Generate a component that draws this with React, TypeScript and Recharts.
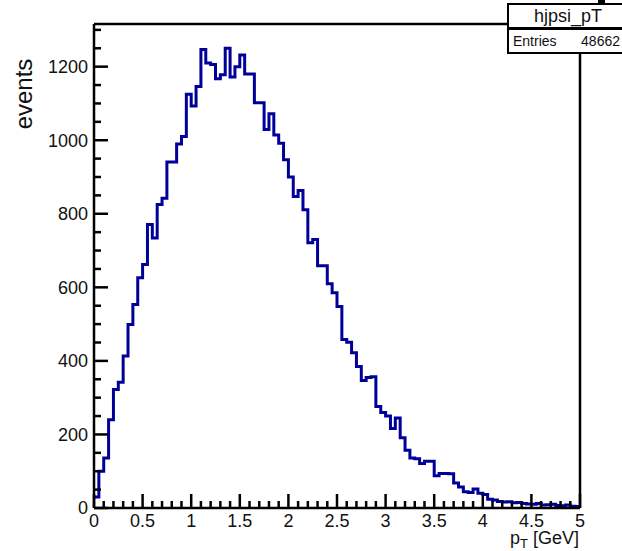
import React from "react";
import { LineChart, Line, XAxis, YAxis, ReferenceLine, Label } from "recharts";

// histogram hjpsi_pT : 100 bins from 0 to 5 GeV
const BIN_WIDTH = 0.05;
const BIN_COUNTS = [
  30, 100, 136, 240, 322, 342, 413, 499, 553, 626,
  662, 771, 734, 825, 842, 941, 941, 990, 1010, 1125,
  1093, 1146, 1247, 1210, 1206, 1167, 1178, 1250, 1172, 1200,
  1232, 1180, 1180, 1102, 1102, 1029, 1072, 1014, 992, 947,
  900, 847, 863, 811, 721, 730, 659, 659, 610, 585,
  548, 458, 451, 422, 385, 347, 355, 357, 276, 260,
  250, 216, 245, 191, 157, 136, 134, 121, 127, 127,
  88, 94, 94, 93, 68, 57, 44, 42, 52, 40,
  37, 24, 22, 18, 16, 17, 14, 15, 12, 11,
  10, 12, 8, 9, 10, 7, 6, 8, 5, 4,
];

const X_LABELS = [0, 0.5, 1, 1.5, 2, 2.5, 3, 3.5, 4, 4.5, 5];
const Y_LABELS = [0, 200, 400, 600, 800, 1000, 1200];
const X_MAX = 5;
const Y_MAX = 1316;
const HIST_NAME = "hjpsi_pT";
const ENTRIES = 48662;

const xTicks = Array.from({ length: 51 }, (_, i) => i / 10);
const yTicks = Array.from({ length: 27 }, (_, i) => i * 50);

const histData = [
  ...BIN_COUNTS.map((c, i) => ({ x: i * BIN_WIDTH, y: c })),
  { x: X_MAX, y: BIN_COUNTS[BIN_COUNTS.length - 1] },
];

const FRAME = "#000";
const LINE_W = 2.5;

const XTick = (props: any) => {
  const { x, y, payload } = props;
  const v = payload.value;
  const major = X_LABELS.some((l) => Math.abs(l - v) < 1e-6);
  return (
    <g>
      <line x1={x} y1={y} x2={x} y2={y - (major ? 14 : 7)} stroke={FRAME} strokeWidth={LINE_W} />
      {major && (
        <text x={x} y={y + 19} textAnchor="middle" fontSize={18} fill="#111">
          {v}
        </text>
      )}
    </g>
  );
};

const YTick = (props: any) => {
  const { x, y, payload } = props;
  const v = payload.value;
  const major = Y_LABELS.includes(v);
  return (
    <g>
      <line x1={x} y1={y} x2={x + (major ? 14 : 7)} y2={y} stroke={FRAME} strokeWidth={LINE_W} />
      {major && (
        <text x={x - 6} y={y} dy="0.36em" textAnchor="end" fontSize={18} fill="#111">
          {v}
        </text>
      )}
    </g>
  );
};

const XTitle = (props: any) => {
  const vb = props.viewBox;
  return (
    <text x={vb.x + vb.width - 1} y={vb.y + 36} textAnchor="end" fontSize={18} fill="#111">
      p
      <tspan fontSize={13} dy={4}>T</tspan>
      <tspan dy={-4}> [GeV]</tspan>
    </text>
  );
};

const YTitle = () => (
  <text x={32} y={94} transform="rotate(-90, 32, 94)" textAnchor="middle" fontSize={24} fill="#111">
    events
  </text>
);

export default function App() {
  return (
    <div
      style={{
        position: "fixed",
        left: 0,
        top: 0,
        width: 622,
        height: 551,
        overflow: "hidden",
        background: "#fff",
        fontFamily: "'Liberation Sans', Arial, sans-serif",
      }}
    >
      <LineChart
        width={622}
        height={551}
        data={histData}
        margin={{ top: 24, right: 42, bottom: 13, left: 0 }}
      >
        <XAxis
          dataKey="x"
          type="number"
          domain={[0, X_MAX]}
          ticks={xTicks}
          interval={0}
          tick={<XTick />}
          tickSize={0}
          tickMargin={0}
          tickLine={false}
          axisLine={{ stroke: FRAME, strokeWidth: LINE_W }}
          height={30}
          allowDataOverflow
        >
          <Label content={<XTitle />} />
        </XAxis>
        <YAxis
          type="number"
          domain={[0, Y_MAX]}
          ticks={yTicks}
          interval={0}
          tick={<YTick />}
          tickSize={0}
          tickMargin={0}
          tickLine={false}
          axisLine={{ stroke: FRAME, strokeWidth: LINE_W }}
          width={94}
          allowDataOverflow
        >
          <Label content={<YTitle />} />
        </YAxis>
        <ReferenceLine y={Y_MAX} stroke={FRAME} strokeWidth={LINE_W} ifOverflow="visible" />
        <ReferenceLine x={X_MAX} stroke={FRAME} strokeWidth={LINE_W} ifOverflow="visible" />
        <Line
          type="stepAfter"
          dataKey="y"
          stroke="#000099"
          strokeWidth={3}
          dot={false}
          activeDot={false}
          isAnimationActive={false}
        />
      </LineChart>

      {/* stats box */}
      <div
        style={{
          position: "absolute",
          left: 507,
          top: 3,
          width: 122,
          height: 26,
          boxSizing: "border-box",
          border: "2px solid #000",
          background: "#fff",
          fontSize: 18,
          lineHeight: "22px",
          textAlign: "center",
          color: "#111",
        }}
      >
        {HIST_NAME}
      </div>
      <div
        style={{
          position: "absolute",
          left: 507,
          top: 28,
          width: 122,
          height: 26,
          boxSizing: "border-box",
          border: "2px solid #000",
          background: "#fff",
          fontSize: 14,
          lineHeight: "22px",
          display: "flex",
          justifyContent: "space-between",
          paddingLeft: 4,
          paddingRight: 7,
          color: "#111",
        }}
      >
        <span>Entries</span>
        <span>{ENTRIES}</span>
      </div>
      <div style={{ position: "absolute", left: 598, top: 0, width: 7, height: 4, background: "#000" }} />
    </div>
  );
}
